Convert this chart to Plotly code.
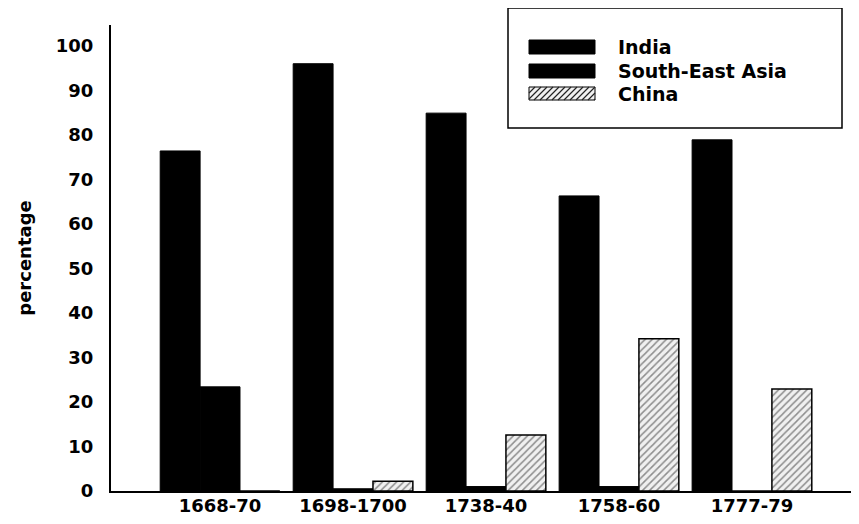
import plotly.graph_objects as go

periods = ["1668-70", "1698-1700", "1738-40", "1758-60", "1777-79"]
series_names = ["India", "South-East Asia", "China"]
india = [76.4, 96.0, 84.9, 66.3, 78.9]
south_east_asia = [23.4, 0.5, 1.0, 1.0, 0.0]
china = [0.0, 2.2, 12.6, 34.2, 22.9]
y_ticks = [0, 10, 20, 30, 40, 50, 60, 70, 80, 90, 100]

# page has an 8px body margin; figure sized to fill the rest of the window
OFF = 8
W, H = 859 - OFF, 524 - OFF
ML, MT = 111 - OFF, 25 - OFF
PW, PH = 748, 466
MR = W - ML - PW
MB = H - MT - PH

def px2x(px):
    return (px - OFF - ML) / PW

def px2y(py):
    return (MT + PH - (py - OFF)) / PH

FONT = dict(family="DejaVu Sans", size=18, color="black", weight="bold")
LFONT = dict(family="DejaVu Sans", size=19, color="black", weight="bold")

fig = go.Figure()
fig.add_trace(go.Bar(x=periods, y=india, name=series_names[0],
                     marker=dict(color="black", line=dict(color="black", width=1)),
                     showlegend=False))
fig.add_trace(go.Bar(x=periods, y=south_east_asia, name=series_names[1],
                     marker=dict(color="black", line=dict(color="black", width=1)),
                     showlegend=False))
fig.add_trace(go.Bar(x=periods, y=china, name=series_names[2],
                     marker=dict(color="#f0f0f0",
                                 pattern=dict(shape="/", fgcolor="#2a2a2a", bgcolor="#f0f0f0",
                                              size=5, solidity=0.3),
                                 line=dict(color="black", width=1.5)),
                     showlegend=False))

shapes = []
annotations = []
shapes.append(dict(type="rect", xref="paper", yref="paper",
                   x0=px2x(508), x1=px2x(842), y0=px2y(128), y1=px2y(8),
                   line=dict(color="black", width=1.5), fillcolor="white", layer="above"))
rows = [(40, 54), (64, 78), (87, 100)]
sx0, sx1 = 529, 595
for i, (ya, yb) in enumerate(rows):
    if i < 2:
        shapes.append(dict(type="rect", xref="paper", yref="paper",
                           x0=px2x(sx0), x1=px2x(sx1), y0=px2y(yb), y1=px2y(ya),
                           line=dict(color="black", width=1), fillcolor="black", layer="above"))
    else:
        shapes.append(dict(type="rect", xref="paper", yref="paper",
                           x0=px2x(sx0), x1=px2x(sx1), y0=px2y(yb), y1=px2y(ya),
                           line=dict(color="black", width=1), fillcolor="#f0f0f0", layer="above"))
        h = yb - ya
        segs = []
        x = sx0 - h
        while x < sx1:
            xa, ya_ = x, yb
            xb, yb_ = x + h, ya
            if xa < sx0:
                d = sx0 - xa
                xa, ya_ = sx0, yb - d
            if xb > sx1:
                d = xb - sx1
                xb, yb_ = sx1, ya + d
            if xb > xa:
                segs.append(f"M{px2x(xa):.5f},{px2y(ya_):.5f} L{px2x(xb):.5f},{px2y(yb_):.5f}")
            x += 6
        shapes.append(dict(type="path", xref="paper", yref="paper", path=" ".join(segs),
                           line=dict(color="#222222", width=1.2), layer="above"))
    annotations.append(dict(x=px2x(616), y=px2y((ya + yb) / 2), xref="paper", yref="paper",
                            text=series_names[i], showarrow=False, xanchor="left", yanchor="middle",
                            font=LFONT))

fig.update_layout(
    width=W, height=H,
    margin=dict(l=ML, r=MR, t=MT, b=MB, autoexpand=False),
    paper_bgcolor="white", plot_bgcolor="white",
    barmode="group", bargap=0.1, bargroupgap=0.0,
    font=FONT,
    shapes=shapes, annotations=annotations,
    xaxis=dict(range=[-0.82, 4.805], showgrid=False, showline=True, linecolor="black",
               linewidth=2, ticks="", tickfont=FONT, ticklabelstandoff=-3, zeroline=False),
    yaxis=dict(range=[0, 104.7], tickvals=y_ticks, showgrid=False, showline=True,
               linecolor="black", linewidth=2, ticks="", tickfont=FONT, zeroline=False,
               ticklabelstandoff=12,
               title=dict(text="percentage", font=FONT, standoff=20)),
)

fig.write_html("out.html")
